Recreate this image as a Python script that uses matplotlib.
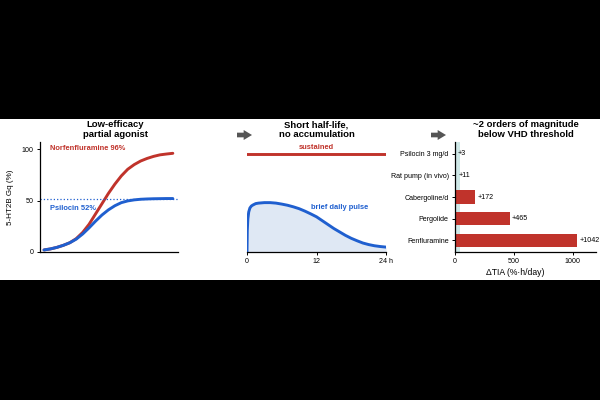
import numpy as np
import matplotlib
matplotlib.use("Agg")
import matplotlib.pyplot as plt
from matplotlib.patches import Rectangle

plt.rcParams['font.family'] = ['Liberation Sans', 'DejaVu Sans']

RED = "#c0332b"
BLUE = "#1f5fcf"
NAVY = "#2a1a86"

# panel 1: concentration-response
log_conc = [0, 0.5, 1, 1.5, 2, 2.5, 3, 3.5, 4, 4.5, 5, 5.5, 6, 6.5, 7,
            7.5, 8, 8.5, 9, 9.5, 10]
norfen_resp = [2, 3, 4.5, 6.5, 9, 13, 19, 27, 37, 47, 57, 66, 74, 80.5, 85,
               88.5, 91, 93, 94.5, 95.3, 96]
psilocin_resp = [2, 3, 4.5, 6.5, 9, 12.5, 17.5, 23.5, 30, 36, 41, 45, 48, 49.7, 50.7,
                 51.3, 51.6, 51.8, 51.9, 52, 52]
psilocin_emax = 52

# panel 2: exposure over one day (relative to sustained level)
hours = [0, 0.05, 0.15, 0.3, 0.5, 0.75, 1, 1.5, 2, 3, 4, 5, 6, 7, 8, 9, 10,
         11, 12, 13, 14, 15, 16, 17, 18, 19, 20, 21, 22, 23, 24]
pulse = [0, 0.22, 0.34, 0.41, 0.45, 0.47, 0.48, 0.495, 0.50, 0.505, 0.505, 0.50,
         0.49, 0.478, 0.462, 0.443, 0.418, 0.39, 0.36, 0.32, 0.28, 0.24, 0.205,
         0.17, 0.14, 0.115, 0.092, 0.076, 0.064, 0.056, 0.05]
sustained = 1.0

# panel 3: delta TIA
drugs = ["Psilocin 3 mg/d", "Rat pump (in vivo)", "Cabergoline/d", "Pergolide", "Fenfluramine"]
dtia = [3, 11, 172, 465, 1042]
bar_colors = [RED, NAVY, RED, RED, RED]
band_max = 40

fig = plt.figure(figsize=(6, 4), dpi=100, facecolor="black")
fig.patches.append(Rectangle((0, 0.30), 1, 0.4025, transform=fig.transFigure,
                             facecolor="white", edgecolor="none", zorder=-10))

ax1 = fig.add_axes([40/600, 0.37, 138/600, 0.275])
ax2 = fig.add_axes([247/600, 0.37, 139/600, 0.275])
ax3 = fig.add_axes([455/600, 0.37, 141/600, 0.275])

for ax in (ax1, ax2, ax3):
    ax.set_facecolor("none")
    ax.spines["top"].set_visible(False)
    ax.spines["right"].set_visible(False)
    ax.tick_params(labelsize=5.1, length=2.5, width=0.7, pad=2)
    for s in ax.spines.values():
        s.set_linewidth(0.9)

title_kw = dict(fontsize=6.8, fontweight="bold", pad=3.5, linespacing=1.1)
lab_kw = dict(fontsize=5.4, fontweight="bold", va="center")

# panel 1
ax1.plot(log_conc, norfen_resp, color=RED, lw=2.1, solid_capstyle="round")
ax1.plot(log_conc, psilocin_resp, color=BLUE, lw=2.1, solid_capstyle="round")
ax1.axhline(psilocin_emax, color=BLUE, lw=0.9, ls=":")
ax1.set_xlim(-0.31, 10.4)
ax1.set_ylim(0, 107)
ax1.set_xticks([])
ax1.set_yticks([0, 50, 100])
ax1.set_ylabel("5-HT2B Gq (%)", fontsize=5.8, labelpad=5.5)
ax1.text(0.47, 100.7, "Norfenfluramine 96%", color=RED, **lab_kw)
ax1.text(0.47, 42, "Psilocin 52%", color=BLUE, **lab_kw)
ax1.set_title("Low-efficacy\npartial agonist", x=0.545, **title_kw)

# panel 2
ax2.plot([0, 24], [sustained, sustained], color=RED, lw=2.1)
ax2.fill_between(hours, pulse, color="#dfe8f4", lw=0)
ax2.plot(hours, pulse, color=BLUE, lw=2.1)
ax2.set_xlim(0, 24)
ax2.set_ylim(0, 1.125)
ax2.spines["left"].set_visible(False)
ax2.set_yticks([])
ax2.set_xticks([0, 12, 24])
ax2.set_xticklabels(["0", "12", "24 h"])
ax2.text(12, 1.065, "sustained", color=RED, ha="center", **lab_kw)
ax2.text(11.1, 0.46, "brief daily pulse", color=BLUE, **lab_kw)
ax2.set_title("Short half-life,\nno accumulation", **title_kw)

# panel 3
ypos = np.arange(len(drugs))
ax3.axvspan(0, band_max, color="#cfe8e7", lw=0, zorder=0)
ax3.barh(ypos, dtia, height=0.6, color=bar_colors, zorder=2)
for y, v in zip(ypos, dtia):
    ax3.text(v + 18, y, "+%d" % v, fontsize=5.1, va="center", clip_on=False)
ax3.set_yticks(ypos)
ax3.set_yticklabels(drugs)
ax3.invert_yaxis()
ax3.set_xlim(0, 1200)
ax3.set_xticks([0, 500, 1000])
ax3.set_xlabel("\u0394TIA (%\u00b7h/day)", fontsize=6.2, labelpad=2, x=0.43)
ax3.set_title("~2 orders of magnitude\nbelow VHD threshold", **title_kw)

# arrows between panels
for x0 in (237, 431):
    fig.add_artist(plt.Annotation(
        "", xy=((x0 + 15) / 600, 1 - 135 / 400), xytext=(x0 / 600, 1 - 135 / 400),
        xycoords="figure fraction", textcoords="figure fraction",
        arrowprops=dict(arrowstyle="simple,head_length=0.5,head_width=0.6,tail_width=0.28",
                        color="#555555", lw=0, mutation_scale=12, shrinkA=0, shrinkB=0)))

fig.savefig("out.png", dpi=100, facecolor="black")
